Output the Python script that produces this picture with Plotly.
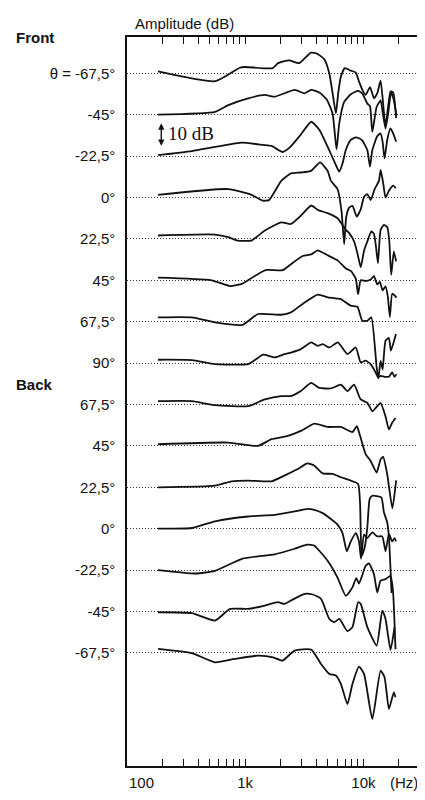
import math
import plotly.graph_objects as go

# angle of each curve, top to bottom
angle_labels = ["θ = -67,5°", "-45°", "-22,5°", "0°", "22,5°", "45°", "67,5°",
                "90°", "67,5°", "45°", "22,5°", "0°", "-22,5°", "-45°", "-67,5°"]

# responses as (Hz, dB relative to the curve's own dotted line)
front_m67_5 = [(183, 0.8), (560, -3.3), (900, 2.3), (1000, 2.6), (1700, 2.1), (1900, 4.2),
               (2350, 5.4), (2870, 4.2), (3600, 8.6), (4050, 8.2), (4670, 5.8), (5145, 0),
               (5490, -8.3), (5855, -16.7), (6125, -8.3), (6450, -1.4), (6970, 2.1),
               (7827, 1.1), (8620, 0.3), (9190, -3.5), (9805, -6.9), (10460, -9),
               (11380, -5.8), (12290, -10.4), (13110, -8.3), (13990, -3.1), (15400, -22),
               (16970, -7.6), (17870, -8), (18930, -18.7)]
front_m45 = [(183, 0), (556, 1.2), (720, 4), (1060, 6.8), (1466, 8.2), (1780, 7.5), (2620, 10.3),
             (3180, 8.9), (3620, 10.3), (4250, 9.2), (4900, 6.3), (5490, 0.4), (5930, -14.5),
             (6245, -3.75), (6880, 5.3), (7827, 8.5), (9020, 9.9), (9805, 8.75), (10800, 4.6),
             (11380, 3.5), (11900, -7.2), (12940, 3.2), (13990, 5.9), (14620, 0.4),
             (15400, -5.8), (16190, 0.4), (17190, 9.4), (18100, 6), (19060, -0.3)]
front_m22_5 = [(183, 0.4), (354, 2.1), (931, 5.6), (1285, 4.9), (1670, 4.2), (2070, 1.7),
               (2375, 3.5), (2960, 9), (3620, 14.3), (4250, 10.9), (4981, 3.9), (5855, -3.75),
               (6245, -6.5), (6660, -3.1), (7100, 2.5), (7827, 6.7), (8620, 7.8), (9190, 7.4),
               (9805, 6.4), (10800, 2.5), (11380, -4.4), (11900, 2.5), (13110, 8.3),
               (13990, 9.4), (14540, 6), (15110, -1), (15910, 6.7), (16970, 11.5),
               (18100, 8.75), (18930, 6)]
front_0 = [(183, 1.1), (720, 3.5), (1130, 1.1), (1400, -1.3), (1590, -1.1), (2018, 6.9),
           (2440, 10), (2960, 10.4), (3620, 11.1), (4300, 14.6), (4980, 11.1), (5315, 6.9),
           (6046, 3.5), (6530, -5.6), (6880, -19.4), (7150, -8.3), (7580, -4.2), (8080, -3.5),
           (8790, -8), (9500, -4.9), (10130, 0.3), (10800, 1.4), (11520, -1.1), (12450, 3.5),
           (13540, 6.9), (14000, 11.5), (14700, 6), (15400, 0), (16450, 2.8), (17870, 4.9),
           (18810, 3.9)]
front_22_5 = [(183, 1.4), (556, 1.8), (720, 0.7), (860, -0.7), (1130, -0.7), (1466, 3.5),
              (2018, 6.9), (2440, 6.2), (2960, 9.7), (3620, 13.9), (4105, 12.1), (4981, 10.7),
              (6046, 8.6), (6660, 5.8), (7100, 3.75), (7580, 2.4), (8350, -1.1), (8900, -6),
              (9500, -11.8), (10130, -4.9), (10800, -1.1), (11680, 3.1), (12290, 2.1),
              (12780, -3.2), (13280, -10.1), (13990, 3.75), (14920, 5.8), (15910, 4.9),
              (16540, -0.4), (17190, -15), (18100, -5.3), (18930, -9.4)]
front_45 = [(183, 1.1), (520, 0), (745, -2.4), (950, -1.4), (1205, 1.8), (1510, 4.3), (2080, 4.2),
            (2440, 6.7), (3060, 10.1), (3620, 10.8), (4105, 12.5), (4981, 10.4), (6046, 8.3),
            (7100, 4.9), (7827, 3.9), (8620, 0.7), (9020, -5.8), (9500, 0), (10460, -0.3),
            (11520, 0.3), (12290, 1.7), (13110, -1.7), (13800, -0.7), (14540, -4.2),
            (15400, -2.5), (16110, -6.9), (16750, -15.3), (17520, -5.6), (18340, -6.25),
            (19060, -7.2)]
front_67_5 = [(183, 1.8), (354, 1.8), (556, -0.3), (950, -1.3), (1285, 3.2), (2018, 2.9),
              (2440, 3.9), (3060, 7.4), (4105, 11.3), (5010, 10.1), (6046, 9.6), (6450, 9.4),
              (7820, 6.7), (8900, 6.2), (9800, 0.4), (10800, 0.4), (11670, 1.8), (12950, -19),
              (13400, -23.6), (13990, -16.3), (14560, -19.9), (15400, -7.9), (16440, -6.8),
              (17100, -12), (18870, -5.1)]
side_90 = [(183, 1.4), (354, 1.25), (556, -0.4), (1060, -0.4), (1205, 1.25), (1420, 3.5),
           (1780, 2.4), (2150, 3.75), (2440, 4.4), (2960, 5.8), (3620, 8.6), (4100, 7.2),
           (4530, 7.9), (5150, 6.5), (6080, 8.6), (7330, 3.75), (8620, 6.5), (9490, 0.3),
           (10460, 1), (11520, -0.4), (12700, -3.9), (13300, -6), (13990, -5.3), (15100, -5.7),
           (16440, -5.7), (17520, -3.9), (18350, -5.7), (19050, -4.6)]
back_67_5 = [(183, 1.4), (354, 1.4), (556, -0.3), (1060, -0.7), (1466, 2.1), (2018, 3.5),
             (2440, 3.5), (2960, 5.6), (3620, 9), (4240, 6.9), (5320, 6.7), (6450, 8.3),
             (7330, 5.6), (8340, 8.3), (9490, 2.1), (10800, 0.7), (11900, -2.8), (13110, -0.7),
             (13990, 0.7), (15400, -5), (16440, -10.4), (17520, -7.6), (18700, -5.6)]
back_45 = [(183, 0.7), (720, 1.4), (1285, 0), (1670, 2.8), (2300, 4.2), (2960, 6.25), (3850, 9.3),
           (5010, 7.9), (6450, 7.9), (8080, 5.8), (8800, 8.2), (9380, 4.2), (10460, -3.5),
           (11520, -6.25), (12950, -11.1), (13990, -5.6), (14700, -4.6), (15910, -11.8),
           (17600, -26), (18930, -14.4)]
back_22_5 = [(183, 0), (556, 0.7), (770, 2.5), (1060, 2.8), (1670, 2.5), (2300, 5.6), (2790, 7.6),
             (3350, 10), (3850, 9), (4530, 5.8), (5500, 5.6), (6450, 4.2), (7827, 2.8),
             (9020, 1.4), (9380, -6.9), (9680, -28.5), (10260, -25), (10800, -16.7),
             (11300, -4.9), (11900, -3.5), (14170, -4.2), (14920, -10.4), (15910, -14.6),
             (16450, -20.8), (16990, -34.7), (17310, -44)]
back_0 = [(183, 0), (354, 0.3), (556, 3.1), (1060, 5.1), (1780, 5.8), (2620, 7.2), (3350, 8.3),
          (3850, 7.9), (4530, 6.5), (4981, 5.1), (6046, 1.7), (6660, -1.8), (7240, -9.4),
          (7827, -5.3), (8620, -1.8), (9190, -5.3), (9550, -12.5), (10130, -2.5), (10800, -3.9),
          (11900, -1.5), (13110, -3.2), (14440, -3.2), (15400, -9.4), (16450, -2.2),
          (17520, -5.3), (18340, -3.9), (18930, -5.3)]
back_m22_5 = [(183, 0), (378, -1.4), (556, -0.3), (950, 4.8), (1780, 6.6), (2620, 8.9),
              (3350, 10.6), (3850, 10.2), (4105, 8.8), (4980, 3.9), (6046, -3.1), (7100, -10.7),
              (8080, -7.2), (8700, -3.3), (9180, -5.6), (10460, 1.8), (11150, 2.8),
              (12290, -1.7), (13110, -9.3), (13990, -4.4), (15400, -3.75), (16970, -2.4),
              (17800, -8.6), (18700, -33)]
back_m45 = [(183, -0.3), (354, -0.7), (556, -3.75), (745, 1.1), (1060, 1.1), (1466, 2.5),
            (1890, 3.9), (2150, 3.2), (2440, 4.6), (3180, 7.4), (3730, 7.1), (4380, 5.3),
            (5150, -3.1), (5680, -4.4), (6260, -3.1), (7330, -8.2), (8080, -6.5), (9040, 3.9),
            (9490, 3.2), (10800, -6.5), (12950, -14.2), (14450, 0.4), (15400, -3.1),
            (16970, -16), (18350, -6.5)]
back_m67_5 = [(183, 1.7), (354, -0.1), (556, -3.9), (815, -2.5), (1285, -1.1), (1724, -1.8),
              (2070, -3.2), (2620, 1), (3620, 1.4), (4380, -4.6), (5150, -8.75), (5850, -9.4),
              (6450, -12.9), (7330, -21.3), (8080, -12.9), (9180, -5.7), (10130, -8.75),
              (11900, -27.5), (13990, -7.4), (15100, -10.1), (16440, -23.3), (18100, -16.4),
              (18700, -18.5)]

curves = [front_m67_5, front_m45, front_m22_5, front_0, front_22_5, front_45, front_67_5,
          side_90, back_67_5, back_45, back_22_5, back_0, back_m22_5, back_m45, back_m67_5]

# frequency ticks
tick_hz = [200, 300, 400, 500, 600, 700, 800, 900, 1000,
           2000, 3000, 4000, 5000, 6000, 7000, 8000, 9000, 10000, 20000]
tick_text = ["", "", "", "", "", "", "", "", "1k",
             "", "", "", "", "", "", "", "", "10k", ""]

step = 17.25  # vertical spacing between curves, dB
baselines = [-i * step for i in range(len(curves))]

ink = "#111111"
font = "Liberation Sans, Arial, sans-serif"

fig = go.Figure()
for base, pts in zip(baselines, curves):
    fig.add_trace(go.Scatter(
        x=[p[0] for p in pts],
        y=[base + p[1] for p in pts],
        mode="lines",
        line=dict(color=ink, width=1.8, shape="spline", smoothing=0.5),
        hoverinfo="skip",
        showlegend=False))

# 10 dB scale marker next to the -45° curve
fig.add_annotation(x=math.log10(195), y=baselines[1] - 13,
                   ax=math.log10(195), ay=baselines[1] - 3,
                   xref="x", yref="y", axref="x", ayref="y",
                   text="", showarrow=True, arrowhead=2, arrowside="end+start",
                   arrowsize=0.9, arrowwidth=1.4, arrowcolor=ink)
fig.add_annotation(x=math.log10(215), y=baselines[1] - 8, xref="x", yref="y",
                   text="10 dB", showarrow=False, xanchor="left", yanchor="middle",
                   font=dict(family="Liberation Serif, Times New Roman, serif", size=19, color=ink))

fig.add_annotation(x=0.02, y=1.019, xref="paper", yref="paper", text="Amplitude (dB)",
                   showarrow=False, xanchor="left", yanchor="middle",
                   font=dict(family=font, size=15, color=ink))
fig.add_annotation(x=-0.384, y=1.0, xref="paper", yref="paper", text="<b>Front</b>",
                   showarrow=False, xanchor="left", yanchor="middle",
                   font=dict(family=font, size=15, color=ink))
fig.add_annotation(x=-0.384, y=0.524, xref="paper", yref="paper", text="<b>Back</b>",
                   showarrow=False, xanchor="left", yanchor="middle",
                   font=dict(family=font, size=15, color=ink))
fig.add_annotation(x=0, y=-0.023, xref="paper", yref="paper", text="100",
                   showarrow=False, xanchor="left", yanchor="middle",
                   font=dict(family=font, size=15, color=ink))
fig.add_annotation(x=0.886, y=-0.023, xref="paper", yref="paper", text="(Hz)",
                   showarrow=False, xanchor="left", yanchor="middle",
                   font=dict(family=font, size=15, color=ink))

# the page body keeps an 8px margin, so the figure is 8px smaller than the window
fig.update_layout(
    width=417, height=792,
    margin=dict(l=119, r=1, t=29, b=34),
    paper_bgcolor="white", plot_bgcolor="white",
    font=dict(family=font, size=15, color=ink),
    xaxis=dict(type="log", range=[2, 4.496], tickvals=tick_hz, ticktext=tick_text,
               ticks="inside", ticklen=7, tickwidth=1.2, tickcolor=ink,
               showline=True, linecolor=ink, linewidth=1.5, mirror="ticks",
               showgrid=False, zeroline=False, ticklabelstandoff=2),
    yaxis=dict(range=[-288.6, 15.1], tickvals=baselines, ticktext=angle_labels,
               ticks="", showline=True, linecolor=ink, linewidth=1.5, mirror=True,
               showgrid=True, gridcolor="#333333", gridwidth=1, griddash="1px,2px",
               zeroline=False, ticklabelstandoff=7),
)

fig.write_html("out.html")
